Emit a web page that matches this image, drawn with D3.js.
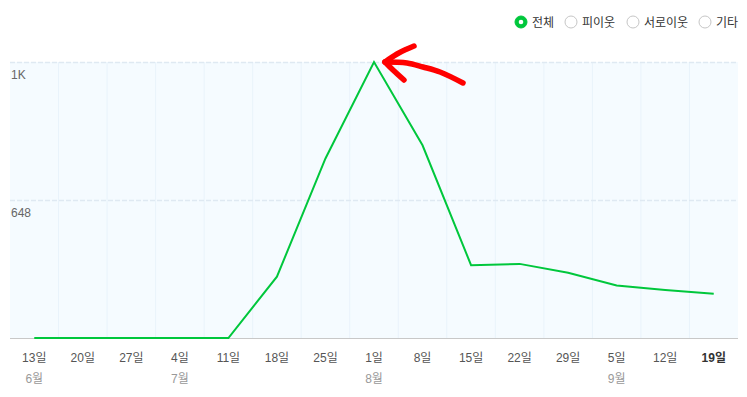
<!DOCTYPE html>
<html>
<head>
<meta charset="utf-8">
<script src="https://cdn.jsdelivr.net/npm/d3@7"></script>
<style>
  body { margin: 0; background: #fff; }
  svg { display: block; font-family: "Liberation Sans", "Noto Sans CJK KR", sans-serif; }
</style>
</head>
<body>
<div id="chart"></div>
<script>
const days = ['13일', '20일', '27일', '4일', '11일', '18일', '25일', '1일', '8일', '15일', '22일', '29일', '5일', '12일', '19일'];
const months = ['6월', '', '', '7월', '', '', '', '8월', '', '', '', '', '9월', '', ''];
const visits = [0, 0, 0, 0, 0, 288, 843, 1296, 905, 342, 348, 306, 247, 225, 208];
const yTicks = [648, 1296];
const yTickLabels = ['648', '1K'];
const legendItems = ['전체', '피이웃', '서로이웃', '기타'];

const width = 747, height = 397;
const margin = { top: 62, right: 9, bottom: 59, left: 10 };

const svg = d3.select('#chart').append('svg')
    .attr('width', width)
    .attr('height', height);

const x = d3.scaleBand()
    .domain(days)
    .range([margin.left, width - margin.right]);

const y = d3.scaleLinear()
    .domain([0, 1296])
    .range([height - margin.bottom, margin.top]);

// plot background
svg.append('rect')
    .attr('x', margin.left)
    .attr('y', margin.top)
    .attr('width', width - margin.left - margin.right)
    .attr('height', height - margin.top - margin.bottom)
    .attr('fill', '#f5fbff');

// vertical grid between bands
svg.append('g')
    .selectAll('line')
    .data(days.slice(1))
    .enter().append('line')
    .attr('x1', d => x(d))
    .attr('x2', d => x(d))
    .attr('y1', margin.top)
    .attr('y2', height - margin.bottom)
    .attr('stroke', '#e9f3fb')
    .attr('stroke-width', 1);

// horizontal dashed grid
svg.append('g')
    .selectAll('line')
    .data(yTicks)
    .enter().append('line')
    .attr('x1', margin.left)
    .attr('x2', width - margin.right)
    .attr('y1', d => Math.round(y(d)) + 0.5)
    .attr('y2', d => Math.round(y(d)) + 0.5)
    .attr('stroke', '#dfe9f2')
    .attr('stroke-width', 1.5)
    .attr('stroke-dasharray', '5,2');

// y labels
svg.append('g')
    .selectAll('text')
    .data(yTicks)
    .enter().append('text')
    .attr('x', margin.left + 1)
    .attr('y', d => y(d) + 17)
    .attr('font-size', 12)
    .attr('fill', '#666')
    .text((d, i) => yTickLabels[i]);

// x axis line
svg.append('line')
    .attr('x1', margin.left)
    .attr('x2', width - margin.right)
    .attr('y1', height - margin.bottom + 0.5)
    .attr('y2', height - margin.bottom + 0.5)
    .attr('stroke', '#c8c8c8');

// x labels
const xLabels = svg.append('g')
    .selectAll('g')
    .data(days)
    .enter().append('g')
    .attr('transform', d => 'translate(' + (x(d) + x.bandwidth() / 2) + ',0)');

xLabels.append('text')
    .attr('y', 362)
    .attr('text-anchor', 'middle')
    .attr('font-size', 12)
    .attr('font-weight', (d, i) => i === days.length - 1 ? 'bold' : 'normal')
    .attr('fill', (d, i) => i === days.length - 1 ? '#333' : '#555')
    .text(d => d);

xLabels.append('text')
    .attr('y', 383)
    .attr('text-anchor', 'middle')
    .attr('font-size', 12)
    .attr('fill', '#999')
    .text((d, i) => months[i]);

// line
const line = d3.line()
    .x((d, i) => x(days[i]) + x.bandwidth() / 2)
    .y(d => y(d));

svg.append('path')
    .datum(visits)
    .attr('fill', 'none')
    .attr('stroke', '#00c73c')
    .attr('stroke-width', 2)
    .attr('stroke-linejoin', 'miter')
    .attr('d', line);

// hand-drawn arrow pointing at the peak
const peakIdx = visits.indexOf(d3.max(visits));
const px = x(days[peakIdx]) + x.bandwidth() / 2 + 11;
const py = y(visits[peakIdx]);
const arrowLine = d3.line()
    .x(d => px + d[0])
    .y(d => py + d[1])
    .curve(d3.curveCatmullRom);
const arrow = svg.append('g')
    .attr('fill', 'none')
    .attr('stroke', '#f00')
    .attr('stroke-width', 5.5)
    .attr('stroke-linecap', 'round')
    .attr('stroke-linejoin', 'round');
arrow.append('path')
    .attr('d', arrowLine([[0, 0], [22, 1], [38, 5], [55, 10], [78, 21]]));
arrow.append('path')
    .attr('d', arrowLine([[0, 0], [12, -8], [22, -13], [29, -16]]));
arrow.append('path')
    .attr('d', arrowLine([[0, 0], [8, 8], [19, 18]]));

// legend radio buttons
const legendX = [521, 571, 633, 705];
const legend = svg.append('g')
    .selectAll('g')
    .data(legendItems)
    .enter().append('g')
    .attr('transform', (d, i) => 'translate(' + legendX[i] + ',22)');

legend.append('circle')
    .attr('r', 6)
    .attr('fill', (d, i) => i === 0 ? '#00c73c' : '#fff')
    .attr('stroke', (d, i) => i === 0 ? '#00c73c' : '#c6c6c6')
    .attr('stroke-width', 1);

legend.filter((d, i) => i === 0).append('circle')
    .attr('r', 2.3)
    .attr('fill', '#fff');

legend.append('text')
    .attr('x', 11)
    .attr('y', 4.5)
    .attr('font-size', 12)
    .attr('fill', '#333')
    .text(d => d);
</script>
</body>
</html>
